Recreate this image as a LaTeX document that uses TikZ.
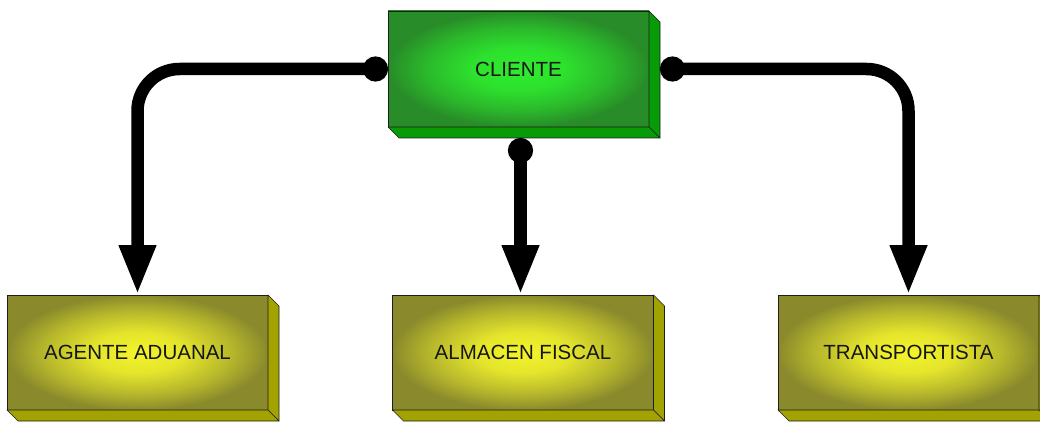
\documentclass[tikz,border=0pt]{standalone}
\usepackage{fontspec}
\setmainfont{Liberation Sans}
\usetikzlibrary{arrows.meta}

\definecolor{greenOuter}{RGB}{40,140,40}
\definecolor{greenInner}{RGB}{46,236,46}
\definecolor{greenSide}{RGB}{8,155,8}
\definecolor{oliveOuter}{RGB}{138,138,44}
\definecolor{oliveInner}{RGB}{244,244,44}
\definecolor{oliveSide}{RGB}{162,162,0}
\definecolor{edgeDark}{RGB}{30,30,30}
\definecolor{labelText}{RGB}{22,22,22}

% soft elliptical glows for the box faces
\pgfdeclareradialshading{greenglow}{\pgfpoint{0bp}{0bp}}{%
  color(0bp)=(greenInner); color(9bp)=(greenInner!88!greenOuter);
  color(18bp)=(greenInner!45!greenOuter); color(25bp)=(greenOuter);
  color(50bp)=(greenOuter)}
\pgfdeclareradialshading{oliveglow}{\pgfpoint{0bp}{0bp}}{%
  color(0bp)=(oliveInner); color(9bp)=(oliveInner!85!oliveOuter);
  color(18bp)=(oliveInner!42!oliveOuter); color(25bp)=(oliveOuter);
  color(50bp)=(oliveOuter)}

\tikzset{
  box/.style={rectangle, draw=edgeDark, line width=0.9pt, outer sep=0pt,
    text=labelText, font=\fontsize{20.5}{24}\selectfont},
  greenbox/.style={box, shading=greenglow,
    minimum width=261pt, minimum height=116pt},
  olivebox/.style={box, shading=oliveglow,
    minimum width=261pt, minimum height=115pt},
  face/.style={draw=edgeDark, line width=0.6pt, line join=round},
  link/.style={line width=12.5pt, black,
    {Circle[length=25pt,width=25pt]}-{Triangle[length=50pt,width=34pt]}},
}

% depth faces of a raised box: right side and bottom
\newcommand{\depthfaces}[3]{%
  \filldraw[face, fill=#2]
    (#1.north east) -- ([shift={(#3,-#3)}]#1.north east)
    -- ([shift={(#3,-#3)}]#1.south east) -- (#1.south east) -- cycle;
  \filldraw[face, fill=#2]
    (#1.south west) -- (#1.south east)
    -- ([shift={(#3,-#3)}]#1.south east) -- ([shift={(#3,-#3)}]#1.south west) -- cycle;
}

\begin{document}
\begin{tikzpicture}[x=1pt, y=1pt]
  \useasboundingbox (0,0) rectangle (1040,421);

  \node[greenbox] (cliente) at (518.5,352) {CLIENTE};
  \node[olivebox] (agente) at (137.5,68.5) {AGENTE ADUANAL};
  \node[olivebox] (almacen) at (523,68.5) {ALMACEN FISCAL};
  \node[olivebox] (transp) at (908.5,68.5) {TRANSPORTISTA};

  \depthfaces{cliente}{greenSide}{11}
  \depthfaces{agente}{oliveSide}{11}
  \depthfaces{almacen}{oliveSide}{11}
  \depthfaces{transp}{oliveSide}{11}

  \coordinate (cEast) at ([xshift=11pt]cliente.east);
  \coordinate (cSouth) at ([xshift=2pt,yshift=-11pt]cliente.south);

  \draw[link, rounded corners=42pt] (cliente.west) -| (agente.north);
  \draw[link] (cSouth) -- (cSouth |- almacen.north);
  \draw[link, rounded corners=42pt] (cEast) -| (transp.north);
\end{tikzpicture}
\end{document}
